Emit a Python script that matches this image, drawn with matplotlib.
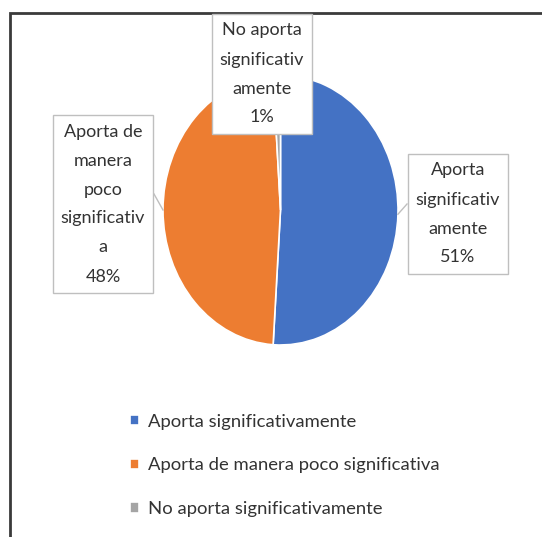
import matplotlib.pyplot as plt
from matplotlib.patches import Rectangle
import numpy as np

categories = ["Aporta significativamente",
              "Aporta de manera poco significativa",
              "No aporta significativamente"]
box_labels = ["Aporta\nsignificativ\namente",
              "Aporta de\nmanera\npoco\nsignificativ\na",
              "No aporta\nsignificativ\namente"]
values = [51, 48, 1]
colors = ["#4472C4", "#ED7D31", "#A5A5A5"]

W, H = 542, 537
fig = plt.figure(figsize=(W / 100, H / 100), dpi=100)
plt.rcParams['font.family'] = ['Lato', 'DejaVu Sans']

# outer frame (right and bottom edges are cut off)
fig.patches.append(Rectangle((10 / W, -0.1), 1.2, 1 - 13 / H + 0.1,
                             transform=fig.transFigure, fill=False,
                             edgecolor="#3a3a3a", linewidth=2))

# pie area (slightly taller than wide, like the original)
ax = fig.add_axes([163 / W, 1 - 345 / H, 235 / W, 270 / H])
wedges, _ = ax.pie(values, colors=colors, startangle=90, counterclock=False,
                   wedgeprops=dict(edgecolor="white", linewidth=1.2))
ax.set_aspect('auto')
ax.set_xlim(-1, 1)
ax.set_ylim(-1, 1)
ax.axis('off')

# label box positions in pixels (center x, center y from top)
box_pos = [(458, 214), (103, 204), (262, 74)]
for w, lab, v, (bx, by) in zip(wedges, box_labels, values, box_pos):
    txt = lab + "\n" + str(v) + "%"
    ang = np.deg2rad((w.theta1 + w.theta2) / 2)
    tip = (np.cos(ang), np.sin(ang))
    t = fig.text(bx / W, 1 - by / H, txt, ha='center', va='center',
                 fontsize=13, color="#333333", linespacing=2.0,
                 bbox=dict(boxstyle="square,pad=0.45", fc="white",
                           ec="#bfbfbf", lw=1), zorder=5)
    if v > 5:
        edge_x = (bx - 51) if bx > 280 else (bx + 51)
        fx, fy = fig.transFigure.inverted().transform(
            ax.transData.transform(tip))
        fig.add_artist(plt.Line2D([edge_x / W, fx], [1 - (by - 10) / H, fy],
                                  color="#bfbfbf", lw=1,
                                  transform=fig.transFigure, zorder=4))

leg = fig.legend(wedges, categories, loc='upper left',
                 bbox_to_anchor=(113 / W, 1 - 397 / H), frameon=False,
                 fontsize=13.3, labelspacing=1.5, handlelength=0.5,
                 handleheight=0.5, handletextpad=0.5)
for txt in leg.get_texts():
    txt.set_color("#333333")

plt.savefig("out.png", dpi=100)
